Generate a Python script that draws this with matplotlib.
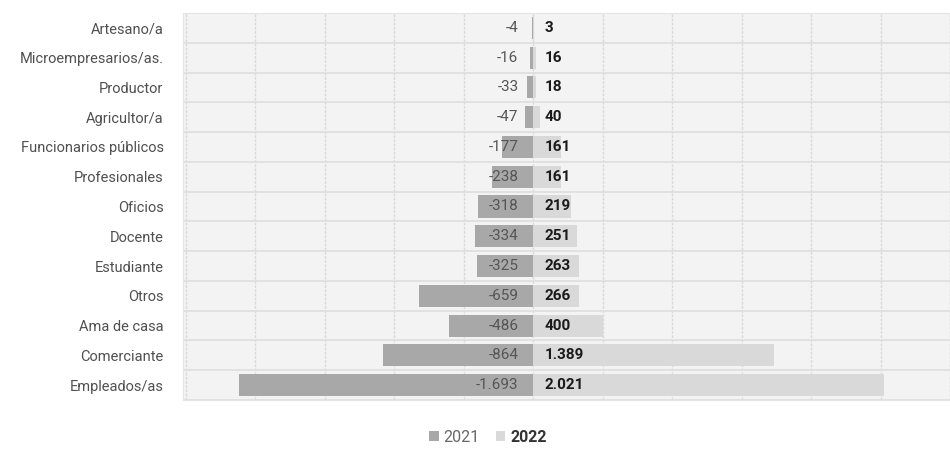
import matplotlib
matplotlib.use("Agg")
import matplotlib.pyplot as plt
import numpy as np

categories = ["Artesano/a", "Microempresarios/as.", "Productor", "Agricultor/a",
              "Funcionarios públicos", "Profesionales", "Oficios", "Docente",
              "Estudiante", "Otros", "Ama de casa", "Comerciante", "Empleados/as"]
v2021 = [-4, -16, -33, -47, -177, -238, -318, -334, -325, -659, -486, -864, -1693]
v2022 = [3, 16, 18, 40, 161, 161, 219, 251, 263, 266, 400, 1389, 2021]
series_names = ["2021", "2022"]

plt.rcParams['font.family'] = ['Roboto', 'DejaVu Sans']

fig = plt.figure(figsize=(9.5, 4.53), dpi=100)
ax = fig.add_axes([183/950, 1-400/453, 1-183/950, (400-13)/453])

y = np.arange(len(categories))
c21 = "#a8a8a8"
c22 = "#d9d9d9"
b1 = ax.barh(y, v2021, height=0.74, color=c21, label=series_names[0], zorder=3)
b2 = ax.barh(y, v2022, height=0.74, color=c22, label=series_names[1], zorder=3)

def fmt(v):
    s = f"{abs(v):,}".replace(",", ".")
    return ("-" if v < 0 else "") + s

for yi, v in zip(y, v2021):
    ax.annotate(fmt(v), xy=(0, yi), xytext=(-10.5, 0), textcoords="offset points",
                ha="right", va="center", fontsize=11, color="#555555", zorder=4)
for yi, v in zip(y, v2022):
    ax.annotate(fmt(v), xy=(0, yi), xytext=(8.5, 0), textcoords="offset points",
                ha="left", va="center", fontsize=11, color="#1a1a1a",
                fontweight="bold", zorder=4)

ax.set_xlim(-2015, 2375)
ax.set_ylim(len(categories) - 0.5, -0.5)
ax.set_facecolor("#f3f3f3")
ax.set_xticks(np.arange(-2000, 2401, 400))
ax.set_xticks([], minor=True)
ax.set_yticks(y)
ax.set_yticklabels(categories, fontsize=10.5, color="#505050")
ax.set_yticks(np.arange(-0.5, len(categories), 1), minor=True)
ax.tick_params(axis="y", which="both", length=0, pad=14)
ax.tick_params(axis="x", which="both", length=0, labelbottom=False)
ax.grid(axis="x", which="major", color="#d9d9d9", linewidth=1.0, linestyle=(0, (2, 1)), zorder=1)
ax.grid(axis="y", which="minor", color="#dedede", linewidth=1.2, zorder=1)
ax.grid(axis="y", which="major", visible=False)
for s in ax.spines.values():
    s.set_color("#e4e4e4")

leg = fig.legend(handles=[b1, b2], labels=series_names, loc="center",
                 bbox_to_anchor=(488/950, 1-437/453), ncol=2, frameon=False,
                 fontsize=11.5, handlelength=0.6, handleheight=0.6, handletextpad=0.3,
                 columnspacing=1.0)
texts = leg.get_texts()
texts[0].set_color("#666666")
texts[1].set_color("#333333")
texts[1].set_fontweight("bold")

fig.savefig("out.png", dpi=100)
